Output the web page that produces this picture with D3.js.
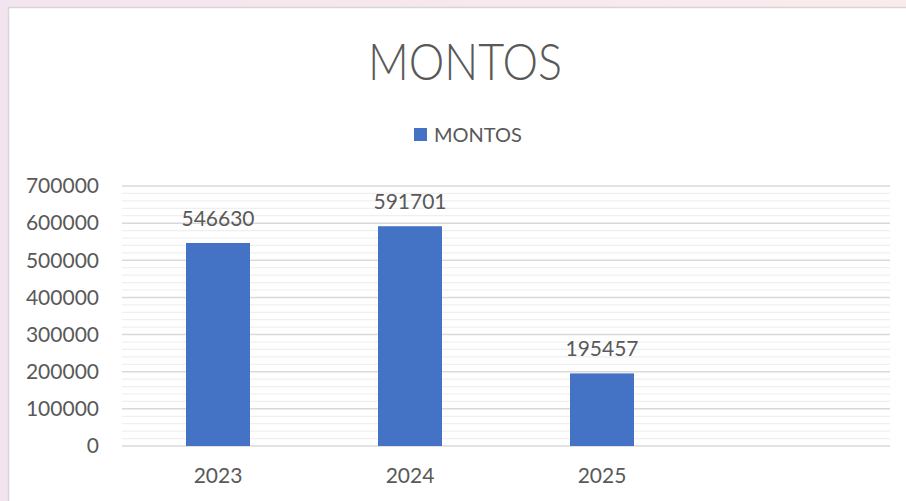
<!DOCTYPE html>
<html>
<head>
<meta charset="utf-8">
<script src="https://cdn.jsdelivr.net/npm/d3@7"></script>
<style>
  body { margin: 0; padding: 0; overflow: hidden; }
  svg { display: block; }
</style>
</head>
<body>
<div id="chart"></div>
<script>
// Data
const categories = ['2023', '2024', '2025', '']
const montos = [546630, 591701, 195457, null]
const yTicks = [0, 100000, 200000, 300000, 400000, 500000, 600000, 700000]
const seriesName = 'MONTOS'

const dataset = categories.map((c, i) => ({ year: c, value: montos[i] }))

// Dimensions
const dimensions = {
  width: 906,
  height: 501,
  frameX: 8,
  frameY: 7,
  left: 122,
  right: 890,
  top: 186,
  bottom: 446,
}

const textColor = '#595959'
const font = 'Lato, "Open Sans", sans-serif'

const svg = d3.select('#chart')
  .append('svg')
  .attr('width', dimensions.width)
  .attr('height', dimensions.height)

// background behind the chart frame
const defs = svg.append('defs')
const grad = defs.append('linearGradient')
  .attr('id', 'bg')
  .attr('x1', '0%').attr('x2', '100%')
grad.append('stop').attr('offset', '0%').attr('stop-color', '#f3e5ef')
grad.append('stop').attr('offset', '100%').attr('stop-color', '#f9ecec')

svg.append('rect')
  .attr('width', dimensions.width)
  .attr('height', dimensions.height)
  .attr('fill', 'url(#bg)')

svg.append('rect')
  .attr('x', dimensions.frameX + 0.5)
  .attr('y', dimensions.frameY + 0.5)
  .attr('width', dimensions.width)
  .attr('height', dimensions.height)
  .attr('fill', '#ffffff')
  .attr('stroke', '#d6d6d6')
  .attr('stroke-width', 1.5)

// Scales
const yScale = d3.scaleLinear()
  .domain([0, 700000])
  .range([dimensions.bottom, dimensions.top])

const xScale = d3.scaleBand()
  .domain(categories)
  .range([dimensions.left, dimensions.right])
  .paddingInner(2 / 3)
  .paddingOuter(1 / 3)

// Gridlines (minor every 20000, major every 100000)
const minorTicks = d3.range(0, 700001, 20000).filter(v => v % 100000 !== 0)
svg.append('g')
  .selectAll('line')
  .data(minorTicks)
  .join('line')
  .attr('x1', dimensions.left)
  .attr('x2', dimensions.right)
  .attr('y1', d => yScale(d))
  .attr('y2', d => yScale(d))
  .attr('stroke', '#efefef')
  .attr('stroke-width', 1.2)

svg.append('g')
  .selectAll('line')
  .data(yTicks)
  .join('line')
  .attr('x1', dimensions.left)
  .attr('x2', dimensions.right)
  .attr('y1', d => yScale(d))
  .attr('y2', d => yScale(d))
  .attr('stroke', '#d9d9d9')
  .attr('stroke-width', 1.5)

// Y axis
const yAxis = d3.axisLeft(yScale)
  .tickValues(yTicks)
  .tickSize(0)
  .tickPadding(0)
  .tickFormat(d => String(d))

const yAxisGroup = svg.append('g')
  .attr('transform', `translate(${dimensions.left - 23}, 0)`)
  .call(yAxis)
yAxisGroup.select('.domain').remove()
yAxisGroup.selectAll('text')
  .attr('fill', textColor)
  .style('font-family', font)
  .style('font-size', '21px')

// X axis
const xAxis = d3.axisBottom(xScale)
  .tickSize(0)
  .tickPadding(0)

const xAxisGroup = svg.append('g')
  .attr('transform', `translate(0, ${dimensions.bottom + 22})`)
  .call(xAxis)
xAxisGroup.select('.domain').remove()
xAxisGroup.selectAll('text')
  .attr('fill', textColor)
  .style('font-family', font)
  .style('font-size', '21px')

// Bars
const bars = dataset.filter(d => d.value != null)
svg.append('g')
  .selectAll('rect')
  .data(bars)
  .join('rect')
  .attr('x', d => xScale(d.year))
  .attr('y', d => yScale(d.value))
  .attr('width', xScale.bandwidth())
  .attr('height', d => yScale(0) - yScale(d.value))
  .attr('fill', '#4472c4')

// Data labels
svg.append('g')
  .selectAll('text')
  .data(bars)
  .join('text')
  .attr('x', d => xScale(d.year) + xScale.bandwidth() / 2)
  .attr('y', d => yScale(d.value) - 17)
  .attr('text-anchor', 'middle')
  .attr('fill', textColor)
  .style('font-family', font)
  .style('font-size', '21px')
  .text(d => d.value)

// Title
svg.append('text')
  .attr('x', 465)
  .attr('y', 80)
  .attr('text-anchor', 'middle')
  .attr('fill', textColor)
  .attr('textLength', 194)
  .attr('lengthAdjust', 'spacingAndGlyphs')
  .style('font-family', font)
  .style('font-weight', 300)
  .style('font-size', '51px')
  .text(seriesName)

// Legend
const legend = svg.append('g')
  .attr('transform', 'translate(414, 128)')
legend.append('rect')
  .attr('width', 13)
  .attr('height', 13)
  .attr('fill', '#4472c4')
legend.append('text')
  .attr('x', 20)
  .attr('y', 14)
  .attr('fill', textColor)
  .style('font-family', font)
  .style('font-size', '20px')
  .text(seriesName)
</script>
</body>
</html>
